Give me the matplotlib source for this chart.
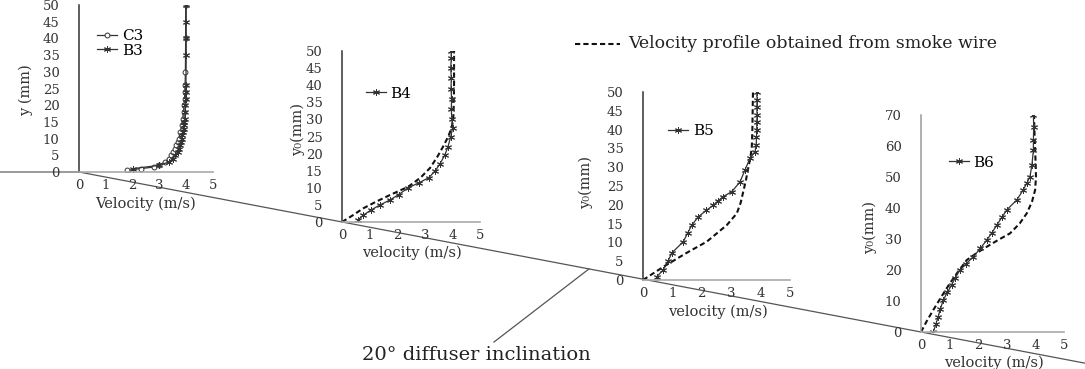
import matplotlib.pyplot as plt
import numpy as np

plt.rcParams['font.family'] = ['DejaVu Serif']

# station 3 (two measurement runs)
c3_y = [0.5, 1, 1.5, 2, 3, 4, 5, 6, 7, 8, 9, 10, 12, 14, 16, 18, 20, 22, 24, 26, 30, 40, 50]
c3_v = [1.8, 2.3, 2.8, 3.0, 3.2, 3.35, 3.45, 3.52, 3.58, 3.63, 3.68, 3.72, 3.78, 3.83, 3.87,
        3.9, 3.92, 3.94, 3.95, 3.96, 3.97, 3.98, 3.98]
b3_y = [1, 2, 3, 4, 5, 6, 7, 8, 9, 10, 11, 12, 13, 14, 15, 16, 18, 20, 22, 24, 26, 35, 40, 45, 50]
b3_v = [2.0, 3.0, 3.35, 3.5, 3.6, 3.68, 3.73, 3.78, 3.8, 3.83, 3.86, 3.88, 3.9, 3.92, 3.93,
        3.95, 3.96, 3.97, 3.98, 3.98, 3.99, 4.0, 4.0, 4.0, 4.0]

# station 4
b4_y = [0.6, 2, 3.5, 5, 6.5, 8, 10, 11.5, 13, 15, 17, 19.5, 22, 25, 27.5, 30, 33, 36, 39, 42, 45, 48, 50]
b4_v = [0.58, 0.77, 1.05, 1.38, 1.75, 2.05, 2.4, 2.8, 3.15, 3.38, 3.55, 3.72, 3.84, 3.94, 4.01,
        3.98, 3.96, 3.97, 3.95, 3.96, 3.94, 3.96, 3.95]
b4_smoke_y = [0, 2, 4, 6, 7.9, 10.3, 13, 15.8, 19, 22, 25, 27.5, 30, 35, 40, 45, 50]
b4_smoke_v = [0, 0.4, 0.77, 1.25, 1.74, 2.4, 2.85, 3.19, 3.45, 3.66, 3.85, 3.97, 4.03, 4.05, 4.06, 4.06, 4.06]

# station 5
b5_y = [0.9, 2.7, 5, 7.2, 10.2, 12.5, 14.6, 16.8, 18.5, 19.9, 21, 22.2, 23.5, 26.1, 29.3, 32.4,
        34.1, 36, 38, 40, 42, 44, 46, 48, 50]
b5_v = [0.47, 0.69, 0.85, 0.98, 1.37, 1.52, 1.66, 1.88, 2.15, 2.39, 2.55, 2.73, 3.02, 3.3, 3.47,
        3.64, 3.81, 3.85, 3.86, 3.87, 3.87, 3.88, 3.87, 3.88, 3.87]
b5_smoke_y = [0, 3.5, 7.2, 10.2, 14.6, 17.7, 20.5, 23.5, 26.5, 29.8, 32.5, 35.1, 40, 45, 50]
b5_smoke_v = [0, 0.69, 1.48, 2.17, 2.85, 3.19, 3.32, 3.41, 3.5, 3.58, 3.65, 3.7, 3.72, 3.73, 3.74]

# station 6
b6_y = [0, 2.5, 4.9, 7.5, 10.3, 12.8, 15.2, 17.5, 20, 22, 24.3, 27, 29.7, 32, 34.5, 37, 39.4,
        42.6, 45.8, 48, 50.1, 54, 58.7, 62, 66, 70]
b6_v = [0.43, 0.52, 0.6, 0.68, 0.78, 0.92, 1.07, 1.2, 1.36, 1.58, 1.83, 2.08, 2.3, 2.48, 2.65,
        2.83, 3.0, 3.35, 3.57, 3.7, 3.81, 3.88, 3.93, 3.93, 3.94, 3.93]
b6_smoke_y = [0, 3.5, 7.1, 11.5, 15.7, 19.5, 23.2, 25.5, 27.5, 29.7, 31.8, 35, 38.3, 42, 45.8,
              50, 54, 58.7, 64, 70]
b6_smoke_v = [0, 0.2, 0.43, 0.72, 1.01, 1.3, 1.6, 1.95, 2.3, 2.7, 3.11, 3.45, 3.7, 3.88, 3.99,
              4.02, 4.01, 3.99, 3.97, 3.95]

velocity_ticks = [0, 1, 2, 3, 4, 5]

W, H = 1085, 369
fig = plt.figure(figsize=(W / 100, H / 100), dpi=100)

# background layer in pixel coordinates for the diffuser wall and notes
bg = fig.add_axes([0, 0, 1, 1])
bg.set_xlim(0, W)
bg.set_ylim(H, 0)
bg.axis('off')


def make_panel(x0, x5, y0, ytop, ymax, ystep, ylabel, lab_x, lab_y, xlab_y, dark=True):
    ax = fig.add_axes([x0 / W, 1 - y0 / H, (x5 - x0) / W, (y0 - ytop) / H])
    ax.set_xlim(0, 5)
    ax.set_ylim(0, ymax)
    ax.set_xticks(velocity_ticks)
    ax.set_yticks(np.arange(0, ymax + 1, ystep))
    ax.patch.set_alpha(0)
    for s in ['top', 'right']:
        ax.spines[s].set_visible(False)
    ax.spines['left'].set_color('#333333' if dark else '#9a9a9a')
    ax.spines['left'].set_linewidth(1.1)
    ax.spines['bottom'].set_color('#aaaaaa')
    ax.spines['bottom'].set_linewidth(1.2)
    ax.tick_params(length=0, labelsize=9.5, labelcolor='#333333')
    ax.tick_params(axis='y', pad=14)
    ax.tick_params(axis='x', pad=5)
    ax.set_ylabel(ylabel, fontsize=10.5, color='#333333')
    ax.yaxis.set_label_coords(lab_x, lab_y)
    ax.set_xlabel('velocity (m/s)', fontsize=10.5, color='#333333')
    ax.xaxis.set_label_coords(0.51, xlab_y)
    return ax


meas = dict(color='#333333', lw=0.9, marker=(6, 2, 0), ms=5, mew=0.7)
smoke = dict(color='#111111', lw=1.5, ls=(0, (2.5, 1.5)))

ax1 = make_panel(79, 213, 172, 5, 50, 5, 'y (mm)', -0.34, 0.49, -0.15)
ax1.set_xlabel('Velocity (m/s)', fontsize=10.5, color='#333333')
ax1.plot(c3_v, c3_y, color='#333333', lw=0.9, marker='o', ms=3.5, mfc='white', mew=0.7, label='C3')
ax1.plot(b3_v, b3_y, label='B3', **meas)
ax1.legend(loc='center left', bbox_to_anchor=(0.08, 0.77), frameon=False, fontsize=11,
           handlelength=1.3, handletextpad=0.3, borderpad=0, labelspacing=0.05)

ax2 = make_panel(342, 480, 222, 51, 50, 5, 'y₀(mm)', -0.27, 0.54, -0.14)
ax2.plot(b4_smoke_v, b4_smoke_y, **smoke)
ax2.plot(b4_v, b4_y, label='B4', **meas)
ax2.legend(loc='center left', bbox_to_anchor=(0.12, 0.75), frameon=False, fontsize=11,
           handlelength=1.3, handletextpad=0.3, borderpad=0)

ax3 = make_panel(643, 790, 280, 92, 50, 5, 'y₀(mm)', -0.34, 0.52, -0.13)
ax3.plot(b5_smoke_v, b5_smoke_y, **smoke)
ax3.plot(b5_v, b5_y, label='B5', **meas)
ax3.legend(loc='center left', bbox_to_anchor=(0.12, 0.79), frameon=False, fontsize=11,
           handlelength=1.3, handletextpad=0.3, borderpad=0)

ax4 = make_panel(921, 1064, 332, 115, 70, 10, 'y₀(mm)', -0.31, 0.48, -0.11, dark=False)
ax4.plot(b6_smoke_v, b6_smoke_y, **smoke)
ax4.plot(b6_v, b6_y, label='B6', **meas)
ax4.legend(loc='center left', bbox_to_anchor=(0.14, 0.78), frameon=False, fontsize=11,
           handlelength=1.3, handletextpad=0.3, borderpad=0)

# diffuser wall through the panel origins
fig.canvas.draw()
origins = []
for ax in [ax1, ax4]:
    px, py = ax.transData.transform((0, 0))
    origins.append((px, H - py))
(xa, ya), (xb, yb) = origins
slope = (yb - ya) / (xb - xa)
bg.plot([0, xa], [ya, ya], color='#8a8a8a', lw=1.2)
bg.plot([xa, W], [ya, ya + slope * (W - xa)], color='#555555', lw=0.9)

# inclination note
note_x = 589
bg.plot([note_x, 494], [ya + slope * (note_x - xa), 342], color='#555555', lw=0.9)
bg.text(476, 355, '20° diffuser inclination', fontsize=14, color='#222222',
        ha='center', va='center')

# smoke wire key
bg.plot([575, 620], [44, 44], **smoke)
bg.text(628, 44, 'Velocity profile obtained from smoke wire', fontsize=12.5,
        color='#222222', ha='left', va='center')

fig.savefig('out.png', dpi=100)
